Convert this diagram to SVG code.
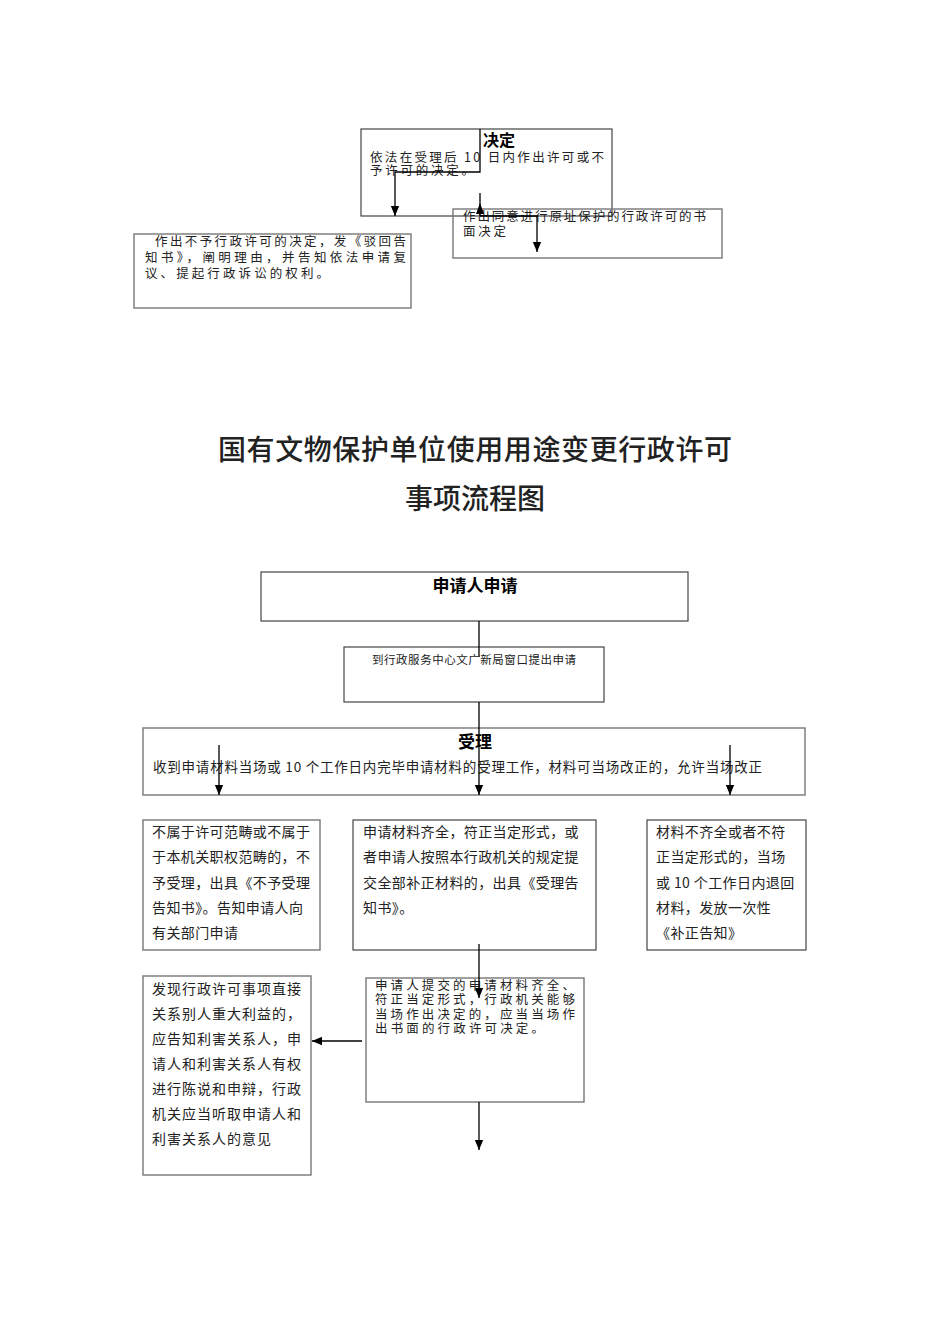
<svg xmlns="http://www.w3.org/2000/svg" width="950" height="1344" viewBox="0 0 950 1344">
<style>
.bx{fill:none;stroke:#444;stroke-width:1.2}
.bg{fill:none;stroke:#777;stroke-width:1.4}
.t{font-family:"Noto Sans CJK SC","Liberation Sans",sans-serif;fill:#222}
.s13{font-size:12.5px}
.s14{font-size:14px;letter-spacing:0.4px}
.b{font-weight:bold;fill:#000}
.ln{fill:none;stroke:#000;stroke-width:1.3}
</style>
<defs>
<marker id="ah" markerUnits="userSpaceOnUse" markerWidth="10" markerHeight="12" refX="12" refY="5" orient="auto" viewBox="0 0 12 10">
<path d="M0,0 L12,5 L0,10 z" fill="#000"/>
</marker>
</defs>
<rect width="950" height="1344" fill="#fff"/>

<g id="n-decide">
<rect class="bx" x="361" y="129" width="251" height="87"/>
<text class="t b" x="483" y="146" font-size="16">决定</text>
<text class="t s13" x="370" y="162" textLength="234" lengthAdjust="spacing">依法在受理后 10 日内作出许可或不</text>
<text class="t s13" x="370" y="175" textLength="104" lengthAdjust="spacing">予许可的决定。</text>
</g>
<g id="n-approve">
<rect class="bg" x="453" y="209" width="269" height="49"/>
<text class="t s13" x="463" y="221" textLength="243" lengthAdjust="spacing">作出同意进行原址保护的行政许可的书</text>
<text class="t s13" x="463" y="236" textLength="43" lengthAdjust="spacing">面决定</text>
</g>
<g id="n-reject">
<rect class="bg" x="134" y="234" width="277" height="74"/>
<text class="t s13" x="155" y="246" textLength="251" lengthAdjust="spacing">作出不予行政许可的决定，发《驳回告</text>
<text class="t s13" x="145" y="262" textLength="261" lengthAdjust="spacing">知书》，阐明理由，并告知依法申请复</text>
<text class="t s13" x="145" y="278" textLength="184" lengthAdjust="spacing">议、提起行政诉讼的权利。</text>
</g>

<g id="title">
<text class="t" x="218" y="460" font-size="28" font-weight="500" textLength="514" lengthAdjust="spacing" fill="#000">国有文物保护单位使用用途变更行政许可</text>
<text class="t" x="405" y="509" font-size="28" font-weight="500" textLength="140" lengthAdjust="spacing" fill="#000">事项流程图</text>
</g>

<g id="n-apply">
<rect class="bx" x="261" y="572" width="427" height="49"/>
<text class="t b" x="475" y="592" font-size="17" text-anchor="middle">申请人申请</text>
</g>
<g id="n-window">
<rect class="bx" x="344" y="647" width="260" height="55"/>
<text class="t" x="372" y="664" font-size="11.5" textLength="204" lengthAdjust="spacing">到行政服务中心文广新局窗口提出申请</text>
</g>
<g id="n-accept">
<rect class="bg" x="143" y="728" width="662" height="67"/>
<text class="t b" x="475" y="748" font-size="17" text-anchor="middle">受理</text>
<text class="t" x="153" y="772" font-size="13.5" textLength="609" lengthAdjust="spacing">收到申请材料当场或 10 个工作日内完毕申请材料的受理工作，材料可当场改正的，允许当场改正</text>
</g>
<g id="n-notscope">
<rect class="bg" x="143" y="820" width="177" height="130"/>
<text class="t s14" x="152" y="837">不属于许可范畴或不属于</text>
<text class="t s14" x="152" y="862">于本机关职权范畴的，不</text>
<text class="t s14" x="152" y="888">予受理，出具《不予受理</text>
<text class="t s14" x="152" y="913">告知书》。告知申请人向</text>
<text class="t s14" x="152" y="938">有关部门申请</text>
</g>
<g id="n-complete">
<rect class="bx" x="353" y="820" width="243" height="130"/>
<text class="t s14" x="363" y="837">申请材料齐全，符正当定形式，或</text>
<text class="t s14" x="363" y="862">者申请人按照本行政机关的规定提</text>
<text class="t s14" x="363" y="888">交全部补正材料的，出具《受理告</text>
<text class="t s14" x="363" y="913">知书》。</text>
</g>
<g id="n-incomplete">
<rect class="bx" x="647" y="820" width="159" height="130"/>
<text class="t s14" x="656" y="837">材料不齐全或者不符</text>
<text class="t s14" x="656" y="862">正当定形式的，当场</text>
<text class="t s14" x="656" y="888">或 10 个工作日内退回</text>
<text class="t s14" x="656" y="913">材料，发放一次性</text>
<text class="t s14" x="656" y="938">《补正告知》</text>
</g>
<g id="n-onsite">
<rect class="bg" x="366" y="978" width="218" height="124"/>
<text class="t s13" x="375" y="990" textLength="200" lengthAdjust="spacing">申请人提交的申请材料齐全、</text>
<text class="t s13" x="375" y="1004" textLength="200" lengthAdjust="spacing">符正当定形式，行政机关能够</text>
<text class="t s13" x="375" y="1019" textLength="200" lengthAdjust="spacing">当场作出决定的，应当当场作</text>
<text class="t s13" x="375" y="1033" textLength="169" lengthAdjust="spacing">出书面的行政许可决定。</text>
</g>
<g id="n-hearing">
<rect class="bg" x="143" y="976" width="168" height="199"/>
<text class="t" font-size="14" letter-spacing="1" x="152" y="994">发现行政许可事项直接</text>
<text class="t" font-size="14" letter-spacing="1" x="152" y="1019">关系别人重大利益的，</text>
<text class="t" font-size="14" letter-spacing="1" x="152" y="1044">应告知利害关系人，申</text>
<text class="t" font-size="14" letter-spacing="1" x="152" y="1069">请人和利害关系人有权</text>
<text class="t" font-size="14" letter-spacing="1" x="152" y="1094">进行陈说和申辩，行政</text>
<text class="t" font-size="14" letter-spacing="1" x="152" y="1119">机关应当听取申请人和</text>
<text class="t" font-size="14" letter-spacing="1" x="152" y="1144">利害关系人的意见</text>
</g>

<g id="connectors">
<polyline class="ln" points="480,129 480,172 395,172 395,216" marker-end="url(#ah)"/>
<polyline class="ln" points="480,193 480,216 537,216 537,252" marker-end="url(#ah)"/>
<path d="M480,203 L476,214 L484,214 z" fill="#000"/>
<line class="ln" x1="479" y1="621" x2="479" y2="657"/>
<line class="ln" x1="479" y1="702" x2="479" y2="795" marker-end="url(#ah)"/>
<line class="ln" x1="219" y1="745" x2="219" y2="795" marker-end="url(#ah)"/>
<line class="ln" x1="730" y1="745" x2="730" y2="795" marker-end="url(#ah)"/>
<line class="ln" x1="479" y1="944" x2="479" y2="998" marker-end="url(#ah)"/>
<line class="ln" x1="362" y1="1041" x2="312" y2="1041" marker-end="url(#ah)"/>
<line class="ln" x1="479" y1="1102" x2="479" y2="1150" marker-end="url(#ah)"/>
</g>
</svg>
